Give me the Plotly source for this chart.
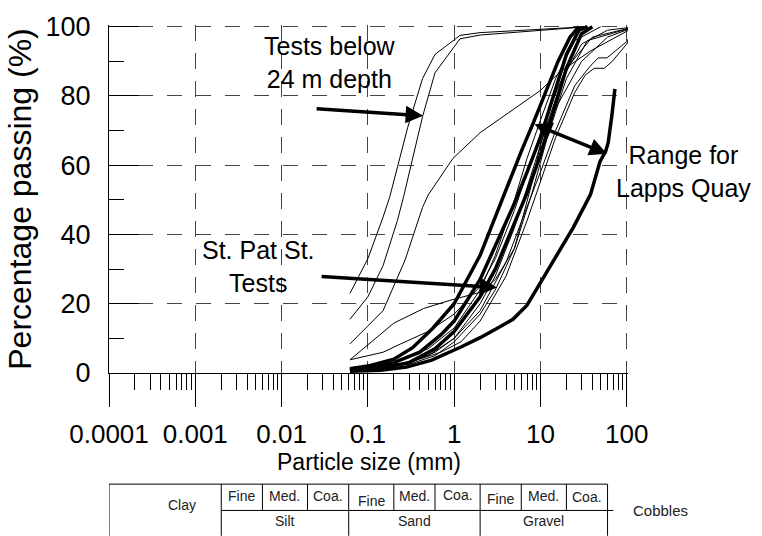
import math
import plotly.graph_objects as go

# ---------------- data (particle size in mm, percentage passing) ----------------
# Tests below 24 m depth (thin)
t1_size = [0.062, 0.1, 0.15, 0.18, 0.29, 0.43, 0.6, 1.17, 2, 6, 35]
t1_pass = [23, 33, 45, 51, 71, 85, 92, 97.5, 98.3, 99, 100]
t2_size = [0.062, 0.1, 0.15, 0.22, 0.26, 0.43, 0.6, 1.17, 2, 6, 35]
t2_pass = [15.5, 22, 31, 44, 51, 74, 86.7, 96.5, 97.6, 98.6, 100]

# St. Pat St. tests (thin)
s1_size = [0.062, 0.2, 0.44, 0.9, 2, 3, 5, 8, 12, 20, 35, 125]
s1_pass = [3.8, 14.4, 18.6, 21, 23.3, 27, 36, 52, 68, 85, 96, 100]
s2_size = [0.062, 0.15, 0.24, 0.5, 1, 2, 3, 5, 8, 12, 20, 40, 125]
s2_pass = [3.8, 6, 8.4, 12, 17, 25, 33, 47, 62, 75, 88, 97, 100]
s3_size = [0.062, 0.15, 0.27, 0.43, 0.5, 0.97, 2, 4.8, 10, 17, 38, 125]
s3_pass = [8.4, 18, 32.6, 47.8, 51.4, 62, 69.4, 76, 81.6, 87, 93, 100]
s4_size = [0.062, 0.2, 0.5, 1, 2, 3, 5, 8, 12, 18, 30, 60, 125]
s4_pass = [1, 2, 5, 10, 20, 28, 42, 58, 72, 85, 95, 99, 100]
s5_size = [0.062, 0.3, 0.6, 1, 2, 4, 7, 10, 15, 25, 37.7, 46.7, 59, 73, 100, 125]
s5_pass = [1, 3, 6, 10, 18, 32, 48, 58, 70, 83, 88.6, 91, 91, 93, 95.7, 100]
s6_size = [0.062, 0.3, 0.7, 1.2, 2, 4, 7, 10, 15, 25, 33, 42, 55, 68, 100, 125]
s6_pass = [1, 3, 6, 9, 15, 28, 44, 55, 68, 81, 86, 88, 88, 90, 95, 100]
s7_size = [0.062, 0.2, 0.5, 1, 2, 3, 5, 7, 10, 15, 25, 50]
s7_pass = [1.5, 3, 7, 13, 24, 34, 50, 62, 73, 85, 96, 100]
s8_size = [0.062, 0.3, 0.6, 1, 2, 3, 5, 8, 10, 12, 18, 30, 60, 125]
s8_pass = [1, 2.5, 5, 9, 17, 24, 36, 55, 66, 72, 80, 90, 97, 100]

# Range for Lapps Quay (thick)
k1_size = [0.062, 0.1, 0.2, 0.33, 0.57, 1, 2, 3, 4.1, 6, 8.2, 12, 16, 22, 28]
k1_pass = [1.2, 2, 4, 7.3, 13, 20, 34, 45, 54, 64, 72, 82, 90, 97, 100]
k2_size = [0.062, 0.1, 0.2, 0.4, 0.7, 1, 2, 3, 5, 7, 10, 15, 20, 28, 35]
k2_pass = [1, 1.5, 3, 6, 11, 15, 27, 37, 49, 58, 68, 82, 92, 99, 100]
k3_size = [0.062, 0.15, 0.3, 0.6, 1, 2, 3, 5, 7, 10, 15, 20, 30, 40]
k3_pass = [0.8, 1.5, 3, 7, 12, 22, 30, 43, 52, 63, 78, 88, 98, 100]
k4_size = [0.062, 0.14, 0.28, 0.55, 1.2, 2, 3.2, 4.8, 7, 10, 24, 38, 49, 57, 61, 67, 73]
k4_pass = [0.5, 0.8, 1.7, 3.7, 7.5, 10.2, 13, 15.5, 19.6, 26, 42, 51.5, 61, 64, 66.5, 74, 82]

thin_curves = [(t1_size, t1_pass), (t2_size, t2_pass), (s1_size, s1_pass), (s2_size, s2_pass),
               (s3_size, s3_pass), (s4_size, s4_pass), (s5_size, s5_pass), (s6_size, s6_pass),
               (s7_size, s7_pass), (s8_size, s8_pass)]
thick_curves = [(k1_size, k1_pass), (k2_size, k2_pass), (k3_size, k3_pass), (k4_size, k4_pass)]

# axis ticks
x_tick_vals = [0.0001, 0.001, 0.01, 0.1, 1, 10, 100]
x_tick_text = ["0.0001", "0.001", "0.01", "0.1", "1", "10", "100"]

# soil classification boundaries (mm)
main_bounds = [0.0001, 0.002, 0.06, 2, 60]
sub_bounds = [0.006, 0.02, 0.2, 0.6, 6, 20]
main_names = ["Silt", "Sand", "Gravel"]
sub_names = ["Fine", "Med.", "Coa."]

FONT = "Arial, Liberation Sans, sans-serif"

fig = go.Figure()
for xs, ys in thin_curves:
    fig.add_trace(go.Scatter(x=xs, y=ys, mode="lines", line=dict(color="black", width=1),
                             hoverinfo="skip", showlegend=False))
for xs, ys in thick_curves:
    fig.add_trace(go.Scatter(x=xs, y=ys, mode="lines", line=dict(color="black", width=3.5),
                             hoverinfo="skip", showlegend=False))

# plot geometry helpers (paper coords for items outside the plot area)
PLOT_LEFT, PLOT_RIGHT = 109, 628
PLOT_TOP, PLOT_BOTTOM = 16, 373
PW = PLOT_RIGHT - PLOT_LEFT
PH = PLOT_BOTTOM - PLOT_TOP


def py(pix):
    return (PLOT_BOTTOM - pix) / PH


def px(pix):
    return (pix - PLOT_LEFT) / PW


shapes = []
line_style = dict(color="black", width=1)
shapes.append(dict(type="line", xref="x", yref="paper", x0=main_bounds[0], x1=main_bounds[-1],
                   y0=py(487), y1=py(487), line=line_style))
shapes.append(dict(type="line", xref="x", yref="paper", x0=main_bounds[1], x1=70,
                   y0=py(514), y1=py(514), line=line_style))
for b in main_bounds:
    shapes.append(dict(type="line", xref="x", yref="paper", x0=b, x1=b,
                       y0=py(487), y1=py(540), line=line_style))
for b in sub_bounds:
    shapes.append(dict(type="line", xref="x", yref="paper", x0=b, x1=b,
                       y0=py(487), y1=py(514), line=line_style))

annotations = []
tfont = dict(family=FONT, size=14, color="#222")
annotations.append(dict(x=-3.15, y=py(508), xref="x", yref="paper", text="Clay",
                        showarrow=False, font=tfont, xanchor="center", yanchor="middle"))
sub_y_off = [[0, 0, 0], [5, 0, -1], [3, 0, 1]]
for i, name in enumerate(main_names):
    lo, hi = main_bounds[i + 1], main_bounds[i + 2]
    annotations.append(dict(x=(math.log10(lo) + math.log10(hi)) / 2, y=py(525), xref="x", yref="paper",
                            text=name, showarrow=False, font=tfont, xanchor="center", yanchor="middle"))
    edges = [lo, sub_bounds[2 * i], sub_bounds[2 * i + 1], hi]
    for j, sname in enumerate(sub_names):
        cx = (math.log10(edges[j]) + math.log10(edges[j + 1])) / 2
        annotations.append(dict(x=cx, y=py(499 + sub_y_off[i][j]), xref="x", yref="paper",
                                text=sname, showarrow=False, font=tfont, xanchor="center", yanchor="middle"))
annotations.append(dict(x=px(660), y=py(514), xref="paper", yref="paper", text="Cobbles",
                        showarrow=False, font=dict(family=FONT, size=15, color="#222"),
                        xanchor="center", yanchor="middle"))

# x axis title
annotations.append(dict(x=0.5, y=py(464), xref="paper", yref="paper", text="Particle size (mm)",
                        showarrow=False, font=dict(family=FONT, size=23, color="black"),
                        xanchor="center", yanchor="middle"))

afont = dict(family=FONT, size=25, color="black")
annotations += [
    dict(x=-1.437, y=89.8, xref="x", yref="y", text="Tests below<br>24 m depth", showarrow=False,
         font=afont, xanchor="center", yanchor="middle"),
    dict(x=-2.271, y=30.9, xref="x", yref="y", text="St. Pat St.<br>Tests", showarrow=False,
         font=afont, xanchor="center", yanchor="middle"),
    dict(x=px(683), y=py(166), xref="paper", yref="paper", text="Range for<br>Lapps Quay",
         showarrow=False, font=afont, xanchor="center", yanchor="middle"),
    dict(x=math.log10(0.437), y=74.3, xref="x", yref="y", text="", showarrow=True,
         ax=-108, ay=-7, arrowhead=2, arrowsize=1, arrowwidth=3.5, arrowcolor="black"),
    dict(x=math.log10(3.15), y=24.7, xref="x", yref="y", text="", showarrow=True,
         ax=-177, ay=-11, arrowhead=2, arrowsize=1, arrowwidth=3.5, arrowcolor="black"),
    dict(x=math.log10(59), y=63.3, xref="x", yref="y", text="", showarrow=True,
         ax=math.log10(8.2), ay=72, axref="x", ayref="y", arrowhead=2, startarrowhead=2,
         arrowside="end+start", arrowsize=1, startarrowsize=1, arrowwidth=3.5, arrowcolor="black"),
]

fig.update_layout(
    width=762, height=536,
    margin=dict(l=PLOT_LEFT, r=762 - PLOT_RIGHT, t=PLOT_TOP, b=536 - PLOT_BOTTOM, pad=0),
    paper_bgcolor="white", plot_bgcolor="white",
    font=dict(family=FONT, color="black", size=24),
    showlegend=False,
    shapes=shapes,
    annotations=annotations,
    xaxis=dict(
        type="log", range=[-4, 2.015],
        tickmode="array", tickvals=x_tick_vals, ticktext=x_tick_text,
        ticks="outside", ticklen=33, tickwidth=1, tickcolor="black",
        minor=dict(ticks="outside", ticklen=16, tickwidth=1, tickcolor="black", dtick="D1", showgrid=False),
        showline=True, linecolor="black", linewidth=1,
        showgrid=True, gridcolor="#444", gridwidth=1, griddash="16px,12px",
        zeroline=False,
        tickfont=dict(family=FONT, size=26, color="black"),
        ticklabelstandoff=5,
    ),
    yaxis=dict(
        range=[0, 100.5], dtick=20, tick0=0,
        ticks="inside", ticklen=30, tickwidth=1, tickcolor="black",
        minor=dict(ticks="inside", ticklen=15, tickwidth=1, tickcolor="black", dtick=10, showgrid=False),
        showline=True, linecolor="black", linewidth=1,
        showgrid=True, gridcolor="#444", gridwidth=1, griddash="15px,14px",
        zeroline=False,
        tickfont=dict(family=FONT, size=27, color="black"),
        ticklabelstandoff=12,
        title=dict(text="Percentage passing (%)", font=dict(family=FONT, size=32, color="black"), standoff=4),
    ),
)

fig.write_html("out.html")
